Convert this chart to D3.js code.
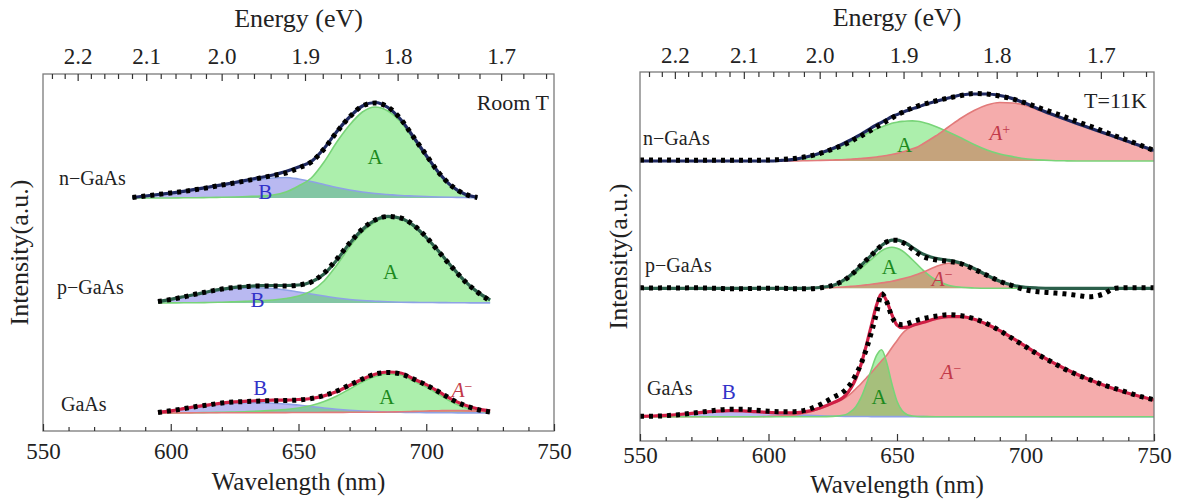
<!DOCTYPE html>
<html>
<head>
<meta charset="utf-8">
<script src="https://cdn.jsdelivr.net/npm/d3@7"></script>
<style>
  body { margin: 0; background: #fff; }
  text { font-family: "Liberation Serif", "Times New Roman", Tinos, serif; fill: #222; }
</style>
</head>
<body>
<svg id="chart" width="1180" height="499"></svg>
<script>
// ---- wavelength grids (nm) ----
var roomWl = [585, 590, 595, 600, 605, 610, 615, 620, 625, 630, 635, 640, 645, 650, 655,
              660, 665, 670, 675, 680, 685, 690, 695, 700, 705, 710, 715, 720, 725];
var lowWl = [550, 555, 560, 565, 570, 575, 580, 585, 590, 595, 600, 605, 610, 615, 620, 625,
             630, 632, 634, 636, 638, 640, 642, 644, 646, 648, 650, 652, 654, 656, 658, 660,
             665, 670, 675, 680, 685, 690, 695, 700, 705, 710, 715, 720, 725, 730, 735, 740, 745, 750];

// ---- room temperature (a.u. above each baseline) ----
var nRoomB = [0.5, 2, 3.5, 5, 6.5, 8.5, 10.5, 12.5, 14.5, 16.5, 18.5, 20, 20.5, 19, 16.5,
              13.5, 10.5, 8, 6, 4.5, 3.5, 2.5, 2, 1.5, 1, 0.7, 0.5, 0.3, null];
var nRoomA = [0, 0, 0, 0, 0.2, 0.3, 0.5, 0.7, 1, 1.5, 2, 3, 6, 12, 20,
              36, 56, 73, 86, 91, 87, 76, 59, 41, 24, 11, 3.5, 0.5, null];
var nRoomData = [0.5, 2, 3.5, 5, 6.5, 8.5, 10.5, 13, 15, 17.5, 20, 22.5, 25, 30, 36,
                 49, 66, 81, 92, 95, 91, 79, 61, 43, 25, 12, 4, 0.5, null];

var pRoomB = [null, null, 1.5, 3.5, 6, 8.5, 11, 13, 14.5, 15, 15, 14.5, 13, 11, 9,
              7, 5, 3.5, 2.5, 1.8, 1.2, 0.8, 0.6, 0.5, 0.4, 0.3, 0.2, 0.1, 0.1];
var pRoomA = [null, null, 0, 0.1, 0.2, 0.3, 0.5, 0.8, 1.2, 1.7, 2.3, 3, 4.5, 7, 12,
              22, 38, 56, 71, 81, 85.5, 84, 77, 65, 51, 36, 22, 11, 3];
var pRoomData = [null, null, 1.5, 3.5, 6, 9, 11.5, 14, 15.5, 16.5, 17, 17, 17, 18, 21,
                 30, 44, 60, 74, 83, 86.5, 85, 78, 66, 51, 36, 22, 11, 2];

var gRoomB = [null, null, 0.5, 2, 4, 6, 7.5, 9, 9.8, 10.2, 10.2, 9.8, 9, 8, 6.5,
              5, 3.8, 2.8, 2, 1.4, 1, 0.7, 0.5, 0.4, 0.3, 0.2, 0.15, 0.1, 0.1];
var gRoomA = [null, null, 0, 0.1, 0.2, 0.3, 0.5, 0.7, 1, 1.4, 1.9, 2.6, 3.5, 5, 7.5,
              11.5, 17, 24, 31, 36.5, 39, 38, 32, 26, 18.5, 11, 5.5, 2.2, 0.5];
var gRoomAm = [null, null, 0.1, 0.1, 0.1, 0.2, 0.2, 0.2, 0.3, 0.3, 0.3, 0.4, 0.4, 0.5, 0.5,
               0.6, 0.6, 0.7, 0.7, 0.8, 1, 1.3, 1.6, 2, 2.3, 2.5, 2.4, 2, 1.5];
var gRoomData = [null, null, 0.5, 2.2, 4.3, 6.5, 8.2, 10, 11, 11.5, 12, 12.3, 12.5, 13, 14.5,
                 17.5, 22, 28, 34, 39, 40.5, 39, 34, 28, 21, 13.5, 7.5, 3.5, 1];

// ---- T = 11 K ----
var nLowA = [0, 0, 0, 0, 0, 0, 0, 0, 0, 0, 0, 0.6, 1.7, 3.9, 7.2, 11.5,
             17, 19.3, 21.8, 24.2, 27, 29.7, 32, 34, 36, 37.7, 38.8, 39.6, 40, 40.1, 39.8, 38.8,
             34.6, 29, 23, 16.5, 11, 7, 4.4, 2.2, 1.1, 0.5, 0.2, 0, 0, 0, 0, 0, 0, 0];
var nLowAp = [0, 0, 0, 0, 0, 0, 0, 0, 0, 0, 0, 0, 0, 0.3, 0.6, 1,
              1.5, 1.8, 2.1, 2.5, 2.9, 3.4, 4, 4.7, 5.5, 6.5, 7.6, 9, 10.5, 12.2, 14, 17,
              25, 34, 43, 50.5, 56, 58.5, 58, 55.5, 51, 46.5, 42, 37.5, 33, 28.5, 24, 19.5, 15, 10.5];
var nLowData = [1, 1, 1, 0.7, 0.7, 0.7, 0.7, 0.7, 0.7, 0.7, 1, 1.5, 2.5, 4.5, 7.5, 12,
                17, 19.5, 22.5, 25, 28, 31, 34, 37, 40, 43, 46, 48.5, 51, 53, 55, 56.5,
                60, 63, 65.5, 67.5, 67, 65, 62, 58, 53.5, 49, 44.5, 39.5, 35, 30, 25, 20.5, 15.5, 10.5];

var pLowA = [0, 0, 0, 0, 0, 0, 0, 0, 0, 0, 0, 0, 0, 0, 0.5, 2,
             8, 11.5, 15.5, 20, 24.5, 29, 33.5, 37.5, 40, 41, 40, 37.5, 33.5, 28.5, 23.5, 18.5,
             8.5, 3, 1, 0.3, 0, 0, 0, 0, 0, 0, 0, 0, 0, 0, 0, 0, 0, 0];
var pLowAm = [0, 0, 0, 0, 0, 0, 0, 0, 0, 0, 0, 0, 0, 0, 0.3, 0.8,
              1.5, 1.9, 2.3, 2.8, 3.4, 4, 4.7, 5.4, 6.2, 7.1, 8.2, 9.4, 10.8, 12.3, 14, 16,
              21.5, 25, 24, 19.5, 13, 7, 3, 1, 0.3, 0, 0, 0, 0, 0, 0, 0, 0, 0];
var pLowData = [0.5, 0.3, 0.5, 0.3, 0.5, 0.3, 0, -0.5, -0.5, 0, 0, 0, -0.5, -0.5, 0.5, 3,
                9, 13, 17.5, 23, 28, 33, 38, 43, 46.5, 48, 48, 46, 43, 39, 35, 32,
                28.5, 27, 24.5, 19, 13, 7, 2.5, -1.5, -3.5, -4.5, -5.5, -7, -8.5, -6, 0, 0.5, 0.5, 0.5];

var gLowB = [0.3, 0.7, 1.3, 2.2, 3.3, 4.5, 5.5, 6, 5.8, 5, 4, 3, 2, 1.3, 0.8, 0.5,
             0.3, 0.25, 0.2, 0.2, 0.15, 0.1, 0.1, 0.1, 0.1, 0.1, 0.1, 0.05, 0.05, 0.05, 0.05, 0.05,
             0, 0, 0, 0, 0, 0, 0, 0, 0, 0, 0, 0, 0, 0, 0, 0, 0, 0];
var gLowA = [0, 0, 0, 0, 0, 0, 0, 0, 0, 0, 0, 0, 0, 0, 0, 0.3,
             2, 5, 10, 19, 32, 47, 61, 67, 54, 33, 15.5, 6, 2, 0.7, 0.2, 0.1,
             0, 0, 0, 0, 0, 0, 0, 0, 0, 0, 0, 0, 0, 0, 0, 0, 0, 0];
var gLowAm = [0, 0, 0, 0, 0, 0, 0, 0, 0, 0, 0.3, 0.8, 1.8, 4, 8, 13,
              19, 23, 28, 33, 38.5, 44, 50, 56, 61.5, 69, 76, 83, 87.5, 90.5, 92.5, 94,
              98, 100, 100, 97.5, 92.5, 86, 78.5, 70.5, 62.5, 55, 48.5, 42.5, 37, 32, 27.5, 23.5, 20, 16.8];
var gLowData = [0.5, 0.5, 1, 2, 3.5, 5, 6.5, 7.5, 7.5, 6.5, 5.5, 5, 5, 7, 12, 19,
                27, 33, 42, 53, 67, 84, 103, 123, 115, 100, 93, 92, 93, 95, 96.5, 98,
                100.5, 102, 101, 98, 93, 86, 78, 70, 62, 55, 48, 42, 37, 32, 28, 24, 20, 17];

// ---- ticks ----
var wlTicks = [550, 600, 650, 700, 750];
var wlMinor = [560, 570, 580, 590, 610, 620, 630, 640, 660, 670, 680, 690, 710, 720, 730, 740];
var eTicks = [2.2, 2.1, 2.0, 1.9, 1.8, 1.7];
var eMinor = [2.24, 2.22, 2.18, 2.16, 2.14, 2.12, 2.08, 2.06, 2.04, 2.02, 1.98, 1.96, 1.94, 1.92,
              1.88, 1.86, 1.84, 1.82, 1.78, 1.76, 1.74, 1.72, 1.68, 1.66];
var hc = 1239.84;

var serif = '"Liberation Serif", "Times New Roman", Tinos, serif';
var fillB = "#5959de", fillA = "#3ada3a", fillR = "#e73a3a";
var lineB = "#8ea2e6", lineA = "#78d478", lineR = "#e27a7a";
var navy = "#1f2960", teal = "#2b5f4a", crimson = "#cf1f45";

var svg = d3.select("#chart");

function addLabel(g, t, xp, yp, color, italic, sup) {
  var tx = g.append("text").attr("x", xp).attr("y", yp)
    .attr("text-anchor", "middle").attr("dy", "0.35em")
    .style("font-size", "21px").style("fill", color);
  tx.append("tspan").text(t).style("font-style", italic ? "italic" : "normal");
  if (sup) tx.append("tspan").text(sup).attr("dy", "-0.45em").style("font-size", "14px");
}

function panel(cfg) {
  var x = d3.scaleLinear().domain([550, 750]).range([cfg.left, cfg.right]);
  var y = d3.scaleLinear().domain([0, cfg.span]).range([cfg.bottom, cfg.top]);
  var g = svg.append("g");

  g.append("clipPath").attr("id", cfg.id).append("rect")
    .attr("x", cfg.left).attr("y", cfg.top)
    .attr("width", cfg.right - cfg.left).attr("height", cfg.bottom - cfg.top);
  var plot = g.append("g").attr("clip-path", "url(#" + cfg.id + ")");

  cfg.spectra.forEach(function(s) {
    var base = s.base;
    var pts = function(vals) {
      return cfg.wl.map(function(w, i) { return [w, vals[i]]; });
    };
    var area = d3.area().defined(function(d) { return d[1] != null; })
      .curve(d3.curveMonotoneX)
      .x(function(d) { return x(d[0]); })
      .y0(y(base))
      .y1(function(d) { return y(base + d[1]); });
    var line = d3.line().defined(function(d) { return d[1] != null; })
      .curve(d3.curveMonotoneX)
      .x(function(d) { return x(d[0]); })
      .y(function(d) { return y(base + d[1]); });

    s.comps.forEach(function(c) {
      plot.append("path").datum(pts(c.vals)).attr("d", area)
        .attr("fill", c.fill).attr("fill-opacity", 0.42);
    });
    s.comps.forEach(function(c) {
      plot.append("path").datum(pts(c.vals)).attr("d", line)
        .attr("fill", "none").attr("stroke", c.line).attr("stroke-width", 1.6);
    });

    // fitted curve = sum of the components
    var fit = cfg.wl.map(function(w, i) {
      var v = 0, ok = true;
      s.comps.forEach(function(c) { if (c.vals[i] == null) ok = false; else v += c.vals[i]; });
      return [w, ok ? v : null];
    });
    plot.append("path").datum(fit).attr("d", line)
      .attr("fill", "none").attr("stroke", s.color).attr("stroke-width", 3.2);

    // measured data
    plot.append("path").datum(pts(s.data)).attr("d", line)
      .attr("fill", "none").attr("stroke", "#000").attr("stroke-width", 5)
      .attr("stroke-dasharray", "4,5");

    s.labels.forEach(function(l) {
      addLabel(g, l.t, x(l.wl), y(base + l.v), l.color, l.italic, l.sup);
    });
    g.append("text").attr("x", cfg.left + s.nameDx).attr("y", y(base + s.nameV))
      .attr("dy", "0.35em").style("font-size", "20px").text(s.name);
  });

  // frame
  g.append("rect").attr("x", cfg.left).attr("y", cfg.top)
    .attr("width", cfg.right - cfg.left).attr("height", cfg.bottom - cfg.top)
    .attr("fill", "none").attr("stroke", "#7a7a7a").attr("stroke-width", 1.3);

  // bottom axis (ticks point inward)
  var bot = g.append("g").attr("transform", "translate(0," + cfg.bottom + ")");
  bot.call(d3.axisBottom(x).tickValues(wlTicks).tickSize(-7).tickSizeOuter(0).tickPadding(cfg.botPad));
  bot.append("g").call(d3.axisBottom(x).tickValues(wlMinor).tickSize(-4).tickFormat(""));
  // top axis in energy
  var top = g.append("g").attr("transform", "translate(0," + cfg.top + ")");
  top.call(d3.axisTop(x).tickValues(eTicks.map(function(e) { return hc / e; }))
    .tickFormat(function(w) { return (hc / w).toFixed(1); })
    .tickSize(-7).tickSizeOuter(0).tickPadding(cfg.topPad));
  top.append("g").call(d3.axisTop(x).tickValues(eMinor.map(function(e) { return hc / e; }))
    .tickSize(-5).tickFormat(""));
  bot.attr("font-family", serif); top.attr("font-family", serif);
  g.selectAll(".domain").remove();
  g.selectAll(".tick line").attr("stroke", "#333").attr("stroke-width", 1.2);
  g.selectAll(".tick text").attr("font-size", 23).style("font-size", "23px")
    .style("font-family", serif).style("fill", "#222");

  var cx = (cfg.left + cfg.right) / 2;
  g.append("text").attr("x", cx).attr("y", cfg.topTitleY).attr("text-anchor", "middle")
    .style("font-size", "26px").text("Energy (eV)");
  g.append("text").attr("x", cx).attr("y", cfg.botTitleY).attr("text-anchor", "middle")
    .style("font-size", "25px").text("Wavelength (nm)");
  g.append("text").attr("transform", "translate(" + cfg.yLabelX + "," + (cfg.top + cfg.bottom) / 2 + ") rotate(-90)")
    .attr("text-anchor", "middle").attr("dy", "0.35em")
    .style("font-size", "26px").text("Intensity(a.u.)");
  g.append("text").attr("x", cfg.noteX).attr("y", cfg.noteY).attr("text-anchor", "end")
    .attr("dy", "0.35em").style("font-size", "22px").text(cfg.note);
}

panel({
  id: "clipRoom", left: 43, right: 554, top: 74, bottom: 431, span: 357,
  wl: roomWl, botPad: 12, topPad: 10, topTitleY: 27, botTitleY: 490, yLabelX: 19,
  note: "Room T", noteX: 549, noteY: 102,
  spectra: [
    { name: "n\u2212GaAs", base: 233, color: navy, data: nRoomData, nameDx: 16, nameV: 20,
      comps: [{ vals: nRoomB, fill: fillB, line: lineB }, { vals: nRoomA, fill: fillA, line: lineA }],
      labels: [{ t: "B", wl: 637, v: 6, color: "#3232c8" }, { t: "A", wl: 680, v: 41, color: "#1d8a1d" }] },
    { name: "p\u2212GaAs", base: 128, color: teal, data: pRoomData, nameDx: 14, nameV: 16,
      comps: [{ vals: pRoomB, fill: fillB, line: lineB }, { vals: pRoomA, fill: fillA, line: lineA }],
      labels: [{ t: "B", wl: 634, v: 3, color: "#3232c8" }, { t: "A", wl: 686, v: 31, color: "#1d8a1d" }] },
    { name: "GaAs", base: 18, color: crimson, data: gRoomData, nameDx: 18, nameV: 9,
      comps: [{ vals: gRoomB, fill: fillB, line: lineB }, { vals: gRoomA, fill: fillA, line: lineA },
              { vals: gRoomAm, fill: fillR, line: lineR }],
      labels: [{ t: "B", wl: 635, v: 25, color: "#3232c8" }, { t: "A", wl: 684.6, v: 16, color: "#1d8a1d" },
               { t: "A", wl: 714, v: 23, color: "#c23a4a", italic: true, sup: "\u2212" }] }
  ]
});

panel({
  id: "clipLow", left: 640, right: 1154, top: 72, bottom: 441, span: 369,
  wl: lowWl, botPad: 6, topPad: 9, topTitleY: 26, botTitleY: 493, yLabelX: 618,
  note: "T=11K", noteX: 1147, noteY: 100,
  spectra: [
    { name: "n\u2212GaAs", base: 280, color: navy, data: nLowData, nameDx: 3, nameV: 23,
      comps: [{ vals: nLowA, fill: fillA, line: lineA }, { vals: nLowAp, fill: fillR, line: lineR }],
      labels: [{ t: "A", wl: 653, v: 16, color: "#1d8a1d" },
               { t: "A", wl: 690, v: 28, color: "#c23a4a", italic: true, sup: "+" }] },
    { name: "p\u2212GaAs", base: 152.7, color: teal, data: pLowData, nameDx: 5, nameV: 23.3,
      comps: [{ vals: pLowA, fill: fillA, line: lineA }, { vals: pLowAm, fill: fillR, line: lineR }],
      labels: [{ t: "A", wl: 647, v: 21.6, color: "#1d8a1d" },
               { t: "A", wl: 667.6, v: 10, color: "#c23a4a", italic: true, sup: "\u2212" }] },
    { name: "GaAs", base: 24.3, color: crimson, data: gLowData, nameDx: 7, nameV: 28.7,
      comps: [{ vals: gLowB, fill: fillB, line: lineB }, { vals: gLowAm, fill: fillR, line: lineR },
              { vals: gLowA, fill: fillA, line: lineA }],
      labels: [{ t: "B", wl: 584.5, v: 25, color: "#3232c8" }, { t: "A", wl: 643, v: 20, color: "#1d8a1d" },
               { t: "A", wl: 671, v: 45, color: "#c23a4a", italic: true, sup: "\u2212" }] }
  ]
});
</script>
</body>
</html>
